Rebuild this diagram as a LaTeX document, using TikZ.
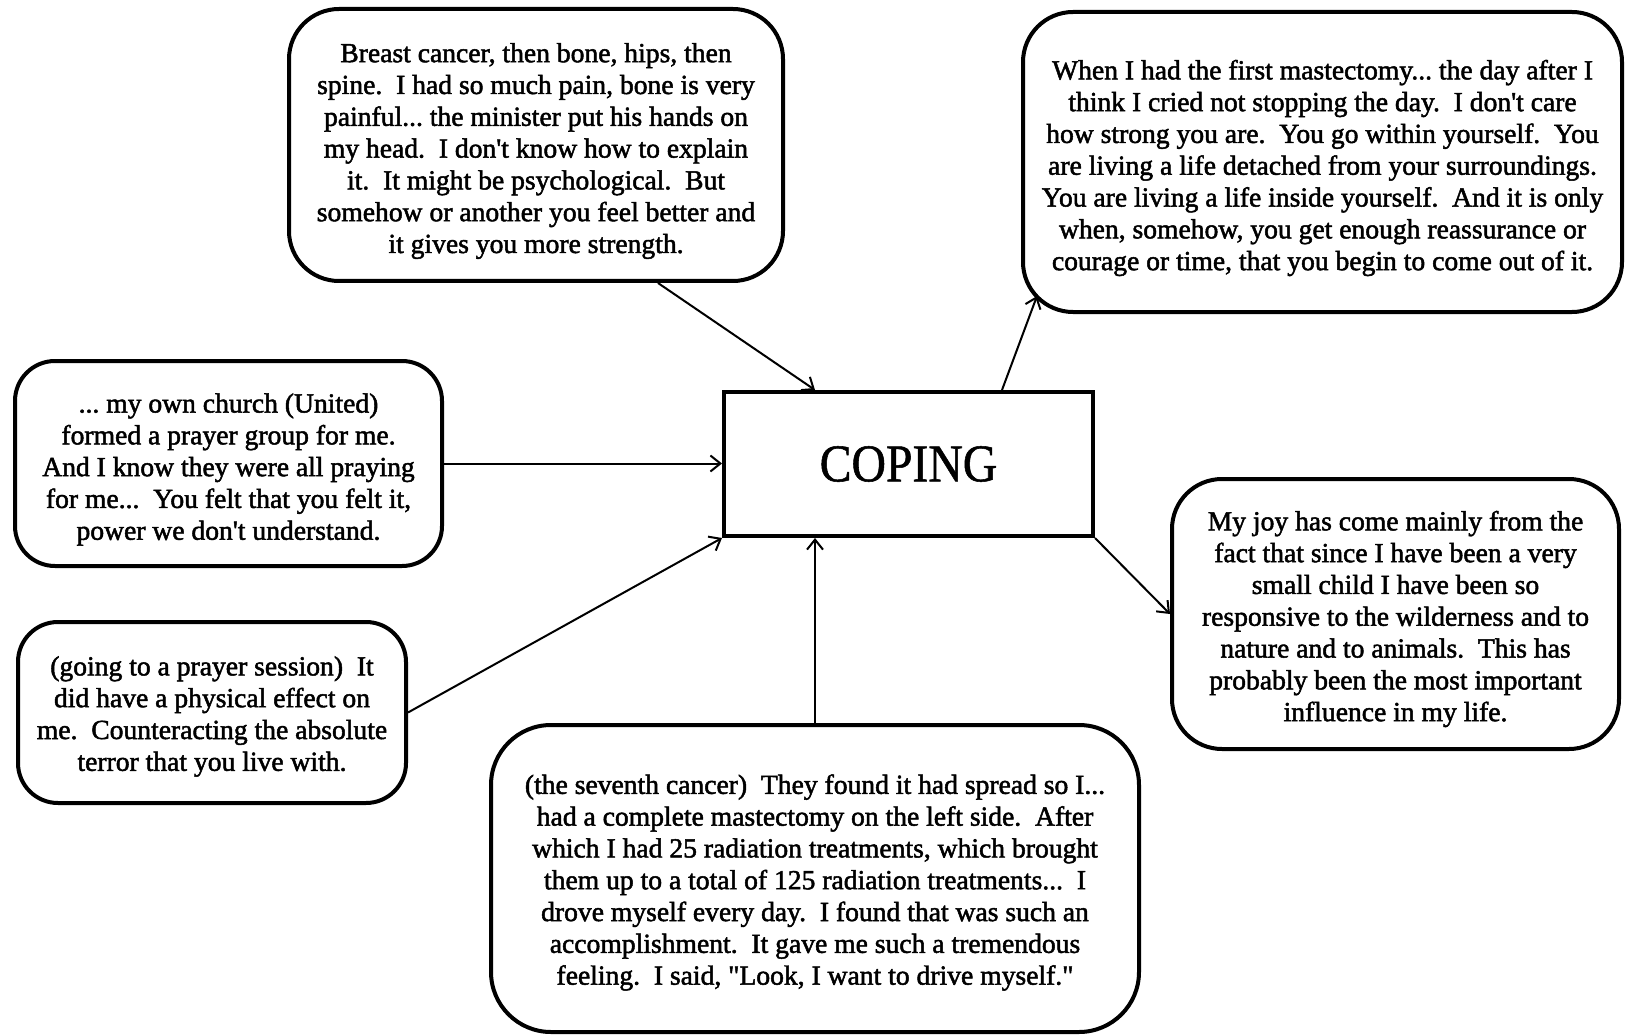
\documentclass[tikz,border=0pt]{standalone}
\usepackage{fontspec}
\setmainfont{Liberation Serif}[FakeBold=1.8,Ligatures=TeXOff]
\newfontfamily\corefont{Liberation Serif}[FakeStretch=0.9,FakeBold=1]
\frenchspacing
\usetikzlibrary{arrows.meta,calc}
\begin{document}
\begin{tikzpicture}[x=1pt,y=-1pt,
  quote/.style={draw,line width=4pt,rounded corners=50pt,inner sep=0pt},
  words/.style={inner sep=0pt,align=center,font=\fontsize{27.6}{31.8}\selectfont},
  core/.style={draw,line width=4pt,inner sep=0pt,font=\corefont\fontsize{53}{60}\selectfont},
  link/.style={line width=2pt,-{Straight Barb[length=10pt,width=16pt,line width=2pt]}}]
\useasboundingbox (0,0) rectangle (1626,1035);

% central box
\node[core,minimum width=369pt,minimum height=144pt] (coping) at (908.5,464) {COPING};

% quotation boxes
\node[quote,minimum width=494pt,minimum height=272pt] (spine) at (536,145) {};
\node[quote,minimum width=599pt,minimum height=300pt] (within) at (1322.5,162) {};
\node[quote,rounded corners=40pt,minimum width=427pt,minimum height=205pt] (church) at (228.5,463.5) {};
\node[quote,rounded corners=40pt,minimum width=388pt,minimum height=181pt] (session) at (212,712.5) {};
\node[quote,rounded corners=60pt,minimum width=648pt,minimum height=307pt] (drive) at (815,878.5) {};
\node[quote,minimum width=447pt,minimum height=270pt] (nature) at (1395.5,614) {};

% quotations (sentences are separated by two spaces)
\node[words] (spine-text) at ([yshift=-6pt]spine.center)
  {Breast cancer, then bone, hips, then\\
   spine.\ \ I had so much pain, bone is very\\
   painful... the minister put his hands on\\
   my head.\ \ I don't know how to explain\\
   it.\ \ It might be psychological.\ \ But\\
   somehow or another you feel better and\\
   it gives you more strength.};

\node[words] (within-text) at ([yshift=-6pt]within.center)
  {When I had the first mastectomy... the day after I\\
   think I cried not stopping the day.\ \ I don't care\\
   how strong you are.\ \ You go within yourself.\ \ You\\
   are living a life detached from your surroundings.\\
   You are living a life inside yourself.\ \ And it is only\\
   when, somehow, you get enough reassurance or\\
   courage or time, that you begin to come out of it.};

\node[words] (church-text) at ([yshift=-6pt]church.center)
  {... my own church (United)\\
   formed a prayer group for me.\\
   And I know they were all praying\\
   for me...\ \ You felt that you felt it,\\
   power we don't understand.};

\node[words] (session-text) at ([yshift=-4pt]session.center)
  {(going to a prayer session)\ \ It\\
   did have a physical effect on\\
   me.\ \ Counteracting the absolute\\
   terror that you live with.};

\node[words] (drive-text) at ([yshift=-4pt]drive.center)
  {(the seventh cancer)\ \ They found it had spread so I...\\
   had a complete mastectomy on the left side.\ \ After\\
   which I had 25 radiation treatments, which brought\\
   them up to a total of 125 radiation treatments...\ \ I\\
   drove myself every day.\ \ I found that was such an\\
   accomplishment.\ \ It gave me such a tremendous\\
   feeling.\ \ I said, "Look, I want to drive myself."};

\node[words] (nature-text) at ([yshift=-5pt]nature.center)
  {My joy has come mainly from the\\
   fact that since I have been a very\\
   small child I have been so\\
   responsive to the wilderness and to\\
   nature and to animals.\ \ This has\\
   probably been the most important\\
   influence in my life.};

% connectors
\draw[link] ([xshift=371pt]spine.south west) -- ([xshift=93pt]coping.north west);
\draw[link] ([xshift=280pt]coping.north west) -- ([xshift=16pt,yshift=18pt]within.south west);
\draw[link] (church.east) -- (church.east -| coping.west);
\draw[link] (session.east) -- (coping.south west);
\draw[link] (drive.north) -- (drive.north |- coping.south);
\draw[link] (coping.south east) -- (nature.west);
\end{tikzpicture}
\end{document}
